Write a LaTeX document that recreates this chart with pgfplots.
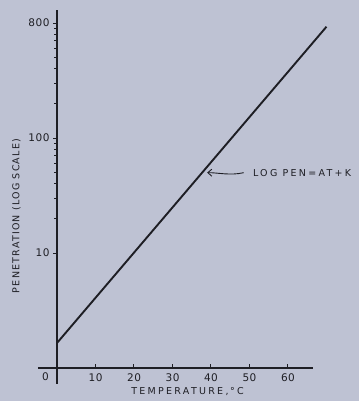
\documentclass[border=0pt]{standalone}
\usepackage{fontspec}
\setmainfont{DejaVu Sans}
\usepackage{pgfplots}
\pgfplotsset{compat=1.18}
\usetikzlibrary{arrows.meta}
\definecolor{bg}{RGB}{190,194,211}
\definecolor{ink}{RGB}{30,30,36}
\begin{document}
\begin{tikzpicture}
\fill[bg] (0,0) rectangle (359pt,401pt);
\useasboundingbox (0,0) rectangle (359pt,401pt);
\begin{axis}[
  at={(57pt,33pt)}, anchor=south west,
  scale only axis, width=256pt, height=358pt,
  xmin=0, xmax=66.5, ymode=log, ymin=1, ymax=1300,
  axis x line*=bottom, axis y line*=left,
  axis line style={ink, line width=1.4pt},
  xtick={10,20,30,40,50,60},
  ytick={10,100,1000}, yticklabels={10,100,800},
  minor ytick={},
  tick style={ink, line width=1pt},
  xtick align=inside, ytick align=outside,
  major tick length=4pt,
  clip=false,
  tick label style={font=\addfontfeature{LetterSpace=5}\fontsize{10.5}{12}\selectfont, text=ink},
  xticklabel style={yshift=-2pt},
  /pgf/number format/assume math mode=true,
  xlabel={TEMPERATURE,\,°C},
  ylabel={PENETRATION (LOG SCALE)},
  xlabel style={at={(axis description cs:0.51,-0.067)}, anchor=center,
    font=\addfontfeature{LetterSpace=24}\fontsize{9.5}{12}\selectfont, text=ink},
  ylabel style={at={(axis description cs:-0.159,0.4246)}, anchor=center,
    font=\addfontfeature{LetterSpace=13}\fontsize{9.5}{12}\selectfont, text=ink},
]
\addplot[ink, line width=1.9pt] coordinates {(0,1.65) (70,930)};
\draw[ink, line width=1.4pt] (axis cs:-5,1) -- (axis cs:0.2,1);
\draw[ink, line width=1.4pt] (axis cs:0,1.1) -- (axis cs:0,0.72);
\node[anchor=north, yshift=-1pt, font=\fontsize{10.5}{12}\selectfont, text=ink] at (axis cs:-3,1) {0};
\node[anchor=west, font=\addfontfeature{LetterSpace=24}\fontsize{9.5}{11}\selectfont, text=ink] at (axis cs:50,50) {LOG PEN=AT+K};
\draw[ink, line width=0.9pt, -{Straight Barb[length=4pt,width=7pt]}] (axis cs:48.5,50) .. controls (axis cs:45,47) and (axis cs:42,50) .. (axis cs:39,50);
\end{axis}
\end{tikzpicture}
\end{document}
